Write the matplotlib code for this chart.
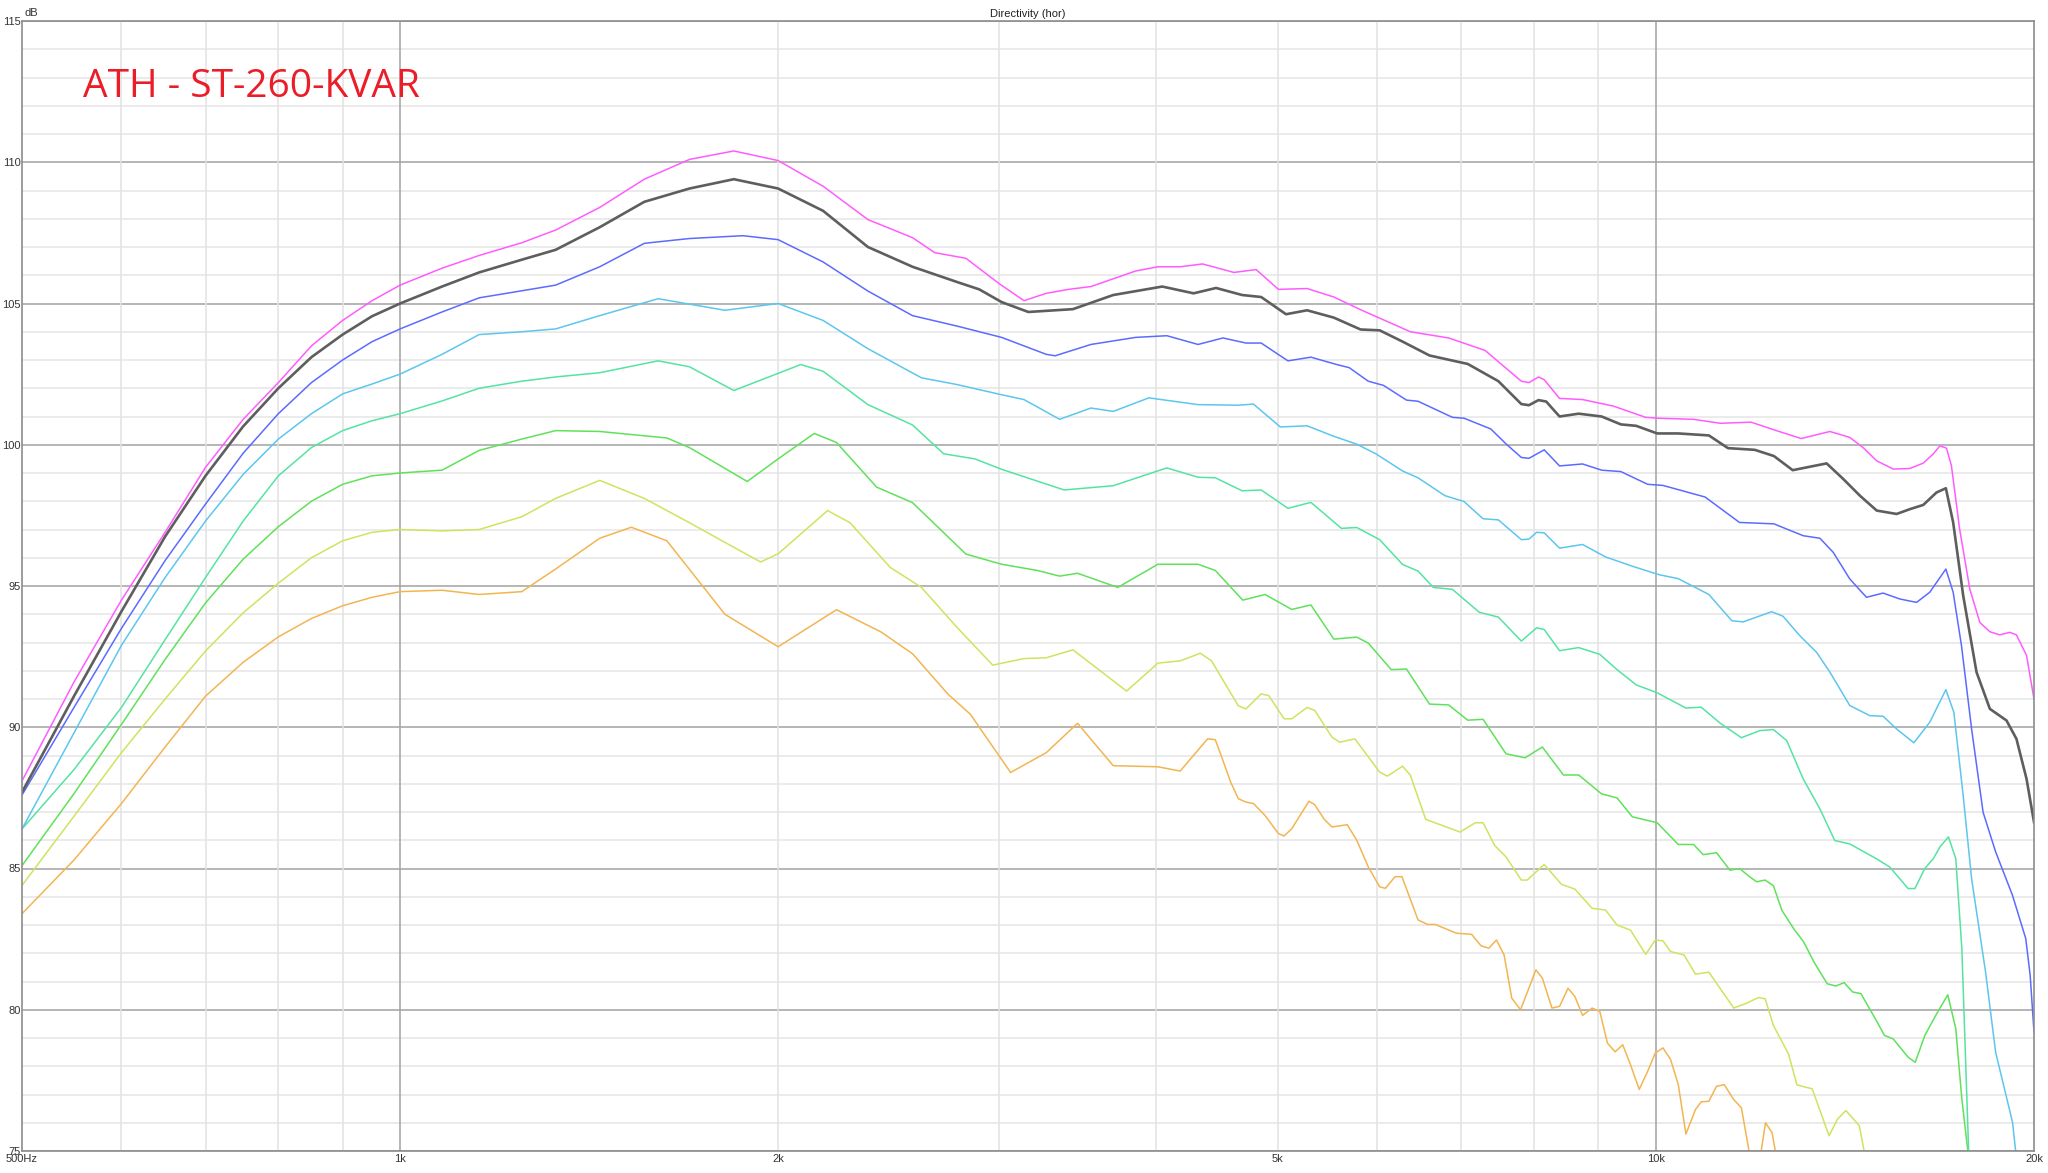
import matplotlib
matplotlib.use('Agg')
import matplotlib.pyplot as plt
from matplotlib.ticker import MultipleLocator, FixedLocator, NullLocator

plt.rcParams['font.family'] = ['Liberation Sans', 'DejaVu Sans']

# --- data (frequency in Hz, level in dB) ---
mag_f = [500, 550, 600, 650, 700, 750, 800, 850, 900, 950, 1000, 1080, 1156, 1250, 1330, 1442, 1565, 1700, 1844,
         2000, 2172, 2358, 2559, 2665, 2822, 3000,
         3139, 3270, 3406, 3549, 3852, 4013, 4180, 4355, 4612, 4805, 5005, 5275, 5540, 5819, 6069, 6375, 6838, 7310,
         7813, 7923, 8063, 8148, 8380, 8741, 9246, 9814, 10023, 10714, 11253, 11903, 12473, 13050, 13757, 14267,
         14620, 14990, 15450, 15930, 16325, 16623, 16831, 17036, 17190, 17450, 17780, 18110, 18446, 18785, 19132,
         19366, 19729, 20000]
mag_db = [88.1, 91.6, 94.5, 96.9, 99.2, 100.9, 102.2, 103.5, 104.4, 105.1, 105.65, 106.25, 106.7, 107.15, 107.6,
          108.4, 109.4, 110.1, 110.4, 110.06, 109.15, 107.97,
          107.33, 106.8, 106.6, 105.7, 105.1, 105.36, 105.5, 105.6, 106.15, 106.3, 106.3, 106.4, 106.1, 106.2, 105.5,
          105.53, 105.23, 104.78, 104.42, 104.0, 103.78, 103.34, 102.25, 102.2, 102.4, 102.3, 101.64, 101.6, 101.37,
          100.97, 100.94, 100.9, 100.76, 100.8, 100.5, 100.22, 100.47, 100.26, 99.9, 99.43, 99.14, 99.16, 99.35, 99.67,
          99.96, 99.88, 99.26, 97.02, 94.89, 93.71, 93.38, 93.27, 93.36, 93.27, 92.54, 91.0]

gray_f = [500, 550, 600, 650, 700, 750, 800, 850, 900, 950, 1000, 1080, 1156, 1250, 1330, 1442, 1565, 1700, 1844,
          2000, 2172, 2358, 2559, 2777, 2892, 3013,
          3164, 3434, 3697, 4045, 4284, 4464, 4683, 4849, 5075, 5275, 5540, 5819, 6026, 6285, 6602, 7082, 7491, 7813,
          7923, 8063, 8177, 8380, 8680, 9053, 9377, 9644, 10023, 10418, 11019, 11412, 11987, 12415, 12850, 13674,
          14096, 14533, 14990, 15546, 15930, 16325, 16726, 17016, 17245, 17565, 18000, 18446, 19016, 19366, 19729,
          20000]
gray_db = [87.7, 91.1, 94.1, 96.75, 98.9, 100.65, 102.0, 103.1, 103.9, 104.55, 105.0, 105.6, 106.1, 106.55, 106.9,
           107.7, 108.6, 109.07, 109.4, 109.07, 108.28, 107.0,
           106.3, 105.76, 105.5, 105.05, 104.7, 104.8, 105.3, 105.6, 105.36, 105.55, 105.3, 105.23, 104.62, 104.76,
           104.5, 104.08, 104.05, 103.65, 103.16, 102.86, 102.25, 101.44, 101.4, 101.58, 101.53, 101.0, 101.1, 101.0,
           100.72, 100.67, 100.4, 100.4, 100.33, 99.88, 99.82, 99.6, 99.1, 99.34, 98.79, 98.2, 97.67, 97.55, 97.72,
           97.87, 98.31, 98.46, 97.25, 94.66, 91.95, 90.65, 90.24, 89.59, 88.17, 86.64]

blue_f = [500, 550, 600, 650, 700, 750, 800, 850, 900, 950, 1000, 1080, 1156, 1250, 1330, 1442, 1565, 1700, 1875,
          2000, 2172, 2358, 2559, 2777, 3013, 3270,
          3324, 3549, 3852, 4079, 4319, 4521, 4716, 4849, 5093, 5312, 5579, 5698, 5901, 6069, 6330, 6465, 6886, 7033,
          7387, 7597, 7813, 7923, 8148, 8380, 8741, 9053, 9377, 9849, 10129, 10942, 11655, 12415, 12768, 13100,
          13507, 13842, 14267, 14711, 15165, 15640, 16126, 16522, 17016, 17245, 17510, 17838, 18218, 18641, 19227,
          19700, 19860, 20000]
blue_db = [87.6, 90.7, 93.5, 95.9, 97.9, 99.7, 101.1, 102.2, 103.0, 103.65, 104.1, 104.7, 105.2, 105.45, 105.65,
           106.3, 107.13, 107.3, 107.4, 107.26, 106.47, 105.44,
           104.57, 104.2, 103.8, 103.2, 103.15, 103.55, 103.8, 103.86, 103.55, 103.78, 103.6, 103.6, 102.97, 103.1,
           102.83, 102.73, 102.25, 102.1, 101.58, 101.54, 100.97, 100.94, 100.56, 100.03, 99.55, 99.52, 99.82, 99.25,
           99.32, 99.1, 99.05, 98.6, 98.56, 98.15, 97.25, 97.2, 96.98, 96.78, 96.69, 96.19, 95.25, 94.6, 94.75, 94.54,
           94.42, 94.78, 95.6, 94.78, 92.89, 89.94, 86.99, 85.59, 84.05, 82.52, 81.22, 79.21]

cyan_f = [500, 550, 600, 650, 700, 750, 800, 850, 900, 950, 1000, 1080, 1156, 1250, 1330, 1442, 1605, 1814, 2000,
          2172, 2358, 2601, 2777, 3013, 3139, 3351,
          3549, 3697, 3947, 4319, 4650, 4781, 5022, 5275, 5540, 5778, 5984, 6285, 6465, 6790, 7033, 7284, 7491, 7813,
          7923, 8035, 8148, 8380, 8741, 9117, 9576, 10058, 10418, 11019, 11493, 11737, 12362, 12623, 13019, 13426,
          13757, 14267, 14800, 15165, 15546, 16046, 16522, 17016, 17267, 17565, 17838, 18300, 18641, 19227, 19344,
          20000]
cyan_db = [86.4, 89.8, 92.9, 95.3, 97.3, 98.95, 100.2, 101.1, 101.8, 102.15, 102.5, 103.2, 103.9, 104.0, 104.1,
           104.57, 105.17, 104.76, 105.0, 104.4, 103.4, 102.37,
           102.13, 101.77, 101.6, 100.9, 101.3, 101.18, 101.66, 101.42, 101.4, 101.44, 100.63, 100.67, 100.3, 100.02,
           99.68, 99.07, 98.83, 98.2, 97.99, 97.38, 97.34, 96.64, 96.66, 96.9, 96.88, 96.34, 96.47, 96.03, 95.7, 95.4,
           95.26, 94.7, 93.77, 93.73, 94.09, 93.93, 93.24, 92.65, 91.95, 90.77, 90.41, 90.39, 89.94, 89.45, 90.18,
           91.33, 90.53, 87.58, 84.64, 81.34, 78.5, 76.02, 74.95, 70.0]

teal_f = [500, 550, 600, 650, 700, 750, 800, 850, 900, 950, 1000, 1080, 1156, 1250, 1330, 1442, 1605, 1700, 1844,
          2085, 2172, 2358, 2559, 2709, 2869, 3013,
          3379, 3697, 4079, 4319, 4458, 4683, 4849, 5093, 5312, 5618, 5778, 6026, 6285, 6465, 6649, 6886, 7233, 7491,
          7813, 8035, 8148, 8380, 8680, 9022, 9311, 9644, 10023, 10565, 10865, 11253, 11696, 12100, 12400, 12709,
          13100, 13507, 13880, 14267, 14990, 15355, 15878, 16077, 16372, 16630, 16836, 17096, 17328, 17522, 17743,
          18000]
teal_db = [86.4, 88.5, 90.7, 93.1, 95.3, 97.3, 98.9, 99.9, 100.5, 100.85, 101.1, 101.55, 102.0, 102.25, 102.4,
           102.55, 102.97, 102.76, 101.92, 102.84, 102.6, 101.42,
           100.7, 99.68, 99.5, 99.13, 98.4, 98.55, 99.18, 98.85, 98.83, 98.37, 98.4, 97.75, 97.96, 97.04, 97.07, 96.64,
           95.76, 95.53, 94.95, 94.88, 94.07, 93.9, 93.05, 93.52, 93.46, 92.71, 92.82, 92.58, 92.04, 91.5, 91.22,
           90.68, 90.71, 90.14, 89.63, 89.88, 89.92, 89.53, 88.17, 87.11, 85.99, 85.87, 85.34, 85.05, 84.29, 84.29,
           85.0, 85.35, 85.77, 86.12, 85.35, 82.16, 74.95, 70.0]

green_f = [500, 550, 600, 650, 700, 750, 800, 850, 900, 950, 1000, 1080, 1156, 1250, 1330, 1442, 1631, 1700, 1890,
           2000, 2137, 2226, 2396, 2559, 2822, 3013,
           3217, 3351, 3463, 3728, 4013, 4319, 4458, 4688, 4884, 5129, 5312, 5540, 5778, 5901, 6155, 6330, 6602, 6838,
           7082, 7284, 7597, 7868, 8120, 8440, 8680, 9053, 9311, 9576, 10023, 10418, 10714, 10904, 11175, 11453,
           11655, 11881, 12027, 12217, 12404, 12597, 12873, 13111, 13360, 13690, 13906, 14122, 14339, 14563, 14978,
           15205, 15448, 15878, 16087, 16372, 16732, 17075, 17328, 17522, 17721, 17900]
green_db = [85.1, 87.65, 90.1, 92.4, 94.4, 95.95, 97.1, 98.0, 98.6, 98.9, 99.0, 99.1, 99.8, 100.2, 100.5, 100.47,
            100.24, 99.9, 98.7, 99.5, 100.4, 100.08, 98.5,
            97.95, 96.13, 95.77, 95.55, 95.35, 95.45, 94.95, 95.77, 95.77, 95.55, 94.5, 94.7, 94.17, 94.33, 93.12,
            93.19, 92.98, 92.04, 92.06, 90.82, 90.79, 90.25, 90.28, 89.06, 88.92, 89.3, 88.31, 88.31, 87.64, 87.5,
            86.83, 86.62, 85.85, 85.85, 85.49, 85.56, 84.94, 85.0, 84.7, 84.53, 84.59, 84.39, 83.52, 82.87, 82.4,
            81.69, 80.92, 80.84, 80.96, 80.63, 80.57, 79.62, 79.09, 78.97, 78.32, 78.14, 79.09, 79.86, 80.53, 79.33,
            76.84, 74.95, 70.0]

yel_f = [500, 550, 600, 650, 700, 750, 800, 850, 900, 950, 1000, 1080, 1156, 1250, 1330, 1442, 1565, 1700, 1844,
         1937, 2000, 2190, 2282, 2456, 2601, 2777,
         2964, 3139, 3270, 3434, 3789, 4013, 4180, 4337, 4427, 4650, 4716, 4849, 4917, 5057, 5129, 5275, 5349, 5521,
         5599, 5758, 6026, 6111, 6285, 6375, 6556, 6695, 6983, 7182, 7284, 7439, 7597, 7813, 7896, 8148, 8410, 8619,
         8896, 9117, 9311, 9543, 9814, 9988, 10129, 10272, 10528, 10752, 11019, 11533, 11820, 12062, 12217, 12404,
         12751, 12950, 13318, 13525, 13736, 13949, 14166, 14518, 14654, 14900]
yel_db = [84.4, 86.85, 89.1, 91.0, 92.7, 94.05, 95.1, 96.0, 96.6, 96.9, 97.0, 96.95, 97.0, 97.45, 98.1, 98.74, 98.1,
          97.24, 96.37, 95.85, 96.14, 97.67, 97.24, 95.66,
          94.95, 93.53, 92.2, 92.43, 92.46, 92.74, 91.28, 92.27, 92.35, 92.62, 92.35, 90.76, 90.65, 91.18, 91.12, 90.3,
          90.3, 90.7, 90.6, 89.65, 89.47, 89.59, 88.41, 88.27, 88.62, 88.3, 86.74, 86.59, 86.29, 86.62, 86.62, 85.82,
          85.41, 84.59, 84.59, 85.14, 84.44, 84.27, 83.59, 83.53, 83.0, 82.82, 81.96, 82.47, 82.44, 82.06, 81.94,
          81.26, 81.33, 80.06, 80.24, 80.43, 80.39, 79.44, 78.44, 77.34, 77.2, 76.37, 75.54, 76.13, 76.43, 75.9,
          74.95, 72.0]

org_f = [500, 550, 600, 650, 700, 750, 800, 850, 900, 950, 1000, 1080, 1156, 1250, 1330, 1442, 1528, 1631, 1814,
         2000, 2226, 2416, 2559, 2731, 2845,
         3063, 3270, 3463, 3697, 4013, 4180, 4396, 4458, 4506, 4585, 4650, 4716, 4781, 4883, 5004, 5057, 5129, 5293,
         5349, 5444, 5521, 5678, 5778, 5901, 6026, 6090, 6198, 6277, 6465, 6579, 6672, 6935, 7132, 7258, 7361, 7465,
         7570, 7677, 7802, 8024, 8120, 8264, 8380, 8511, 8619, 8741, 8896, 9022, 9149, 9278, 9409, 9543, 9698, 9849,
         9988, 10129, 10272, 10418, 10565, 10752, 10865, 11019, 11175, 11333, 11533, 11696, 11861, 11950, 12071,
         12225, 12372, 12459, 12600]
org_db = [83.4, 85.3, 87.3, 89.3, 91.1, 92.3, 93.2, 93.85, 94.3, 94.6, 94.8, 94.85, 94.7, 94.8, 95.6, 96.69, 97.08,
          96.6, 94.0, 92.85, 94.16, 93.37, 92.6,
          91.17, 90.46, 88.4, 89.1, 90.14, 88.64, 88.6, 88.45, 89.59, 89.56, 89.0, 88.06, 87.47, 87.35, 87.3, 86.88,
          86.24, 86.15, 86.41, 87.38, 87.26, 86.74, 86.47, 86.55, 86.0, 85.06, 84.35, 84.3, 84.71, 84.71, 83.18, 83.02,
          83.02, 82.71, 82.67, 82.26, 82.18, 82.47, 81.94, 80.41, 80.0, 81.41, 81.12, 80.06, 80.12, 80.76, 80.47, 79.8,
          80.06, 79.94, 78.82, 78.51, 78.76, 78.06, 77.18, 77.82, 78.47, 78.65, 78.24, 77.35, 75.6, 76.47, 76.74,
          76.76, 77.29, 77.35, 76.82, 76.53, 75.0, 74.3, 74.4, 76.0, 75.65, 74.9, 73.0]

x_ticks = [500, 1000, 2000, 5000, 10000, 20000]
x_labels = ['500Hz', '1k', '2k', '5k', '10k', '20k']
grid_dark = [1000, 10000]
grid_light = [600, 700, 800, 900, 2000, 3000, 4000, 5000, 6000, 7000, 8000, 9000]

fig = plt.figure(figsize=(20.48, 11.73), dpi=100)
ax = fig.add_axes([22 / 2048, 22 / 1173, 2012 / 2048, 1130 / 1173])
ax.set_xscale('log')
ax.set_xlim(500, 20000)
ax.set_ylim(75, 115)

# grid
ax.yaxis.set_major_locator(MultipleLocator(5))
ax.yaxis.set_minor_locator(MultipleLocator(1))
ax.grid(axis='y', which='minor', color='#e6e6e6', lw=1.1, zorder=0)
ax.grid(axis='y', which='major', color='#a2a2a2', lw=1.1, zorder=0.6)
for f in grid_light:
    ax.axvline(f, color='#e2e2e2', lw=1.1, zorder=0.55)
for f in grid_dark:
    ax.axvline(f, color='#a2a2a2', lw=1.1, zorder=0.65)
ax.set_axisbelow(True)

curves = [
    (org_f, org_db, '#f2b552', 1.1),
    (yel_f, yel_db, '#cfe35f', 1.1),
    (green_f, green_db, '#5fe25a', 1.1),
    (teal_f, teal_db, '#55e3a2', 1.1),
    (cyan_f, cyan_db, '#5cc6ef', 1.1),
    (blue_f, blue_db, '#5c6bff', 1.1),
    (mag_f, mag_db, '#ff5cff', 1.1),
    (gray_f, gray_db, '#5e5e5e', 1.9),
]
for f, db, c, lw in curves:
    ax.plot(f, db, color=c, lw=lw, zorder=2)

ax.xaxis.set_major_locator(FixedLocator(x_ticks))
ax.xaxis.set_minor_locator(NullLocator())
ax.set_xticklabels(x_labels)
ax.tick_params(axis='both', which='both', length=0, labelsize=8, colors='#333333')
ax.tick_params(axis='x', pad=2)
ax.tick_params(axis='y', pad=1)

for s in ax.spines.values():
    s.set_color('#8c8c8c')
    s.set_linewidth(1.2)

ax.set_title('Directivity (hor)', fontsize=8, pad=3, color='#222222')
ax.text(0.001, 1.003, 'dB', transform=ax.transAxes, fontsize=8, va='bottom', ha='left', color='#333333')
ax.text(0.0303, 0.9327, 'ATH - ST-260-KVAR', transform=ax.transAxes, color='#ea1d28',
        fontsize=28, family=['Open Sans', 'DejaVu Sans'], va='baseline', ha='left')

fig.savefig('out.png', dpi=100)
